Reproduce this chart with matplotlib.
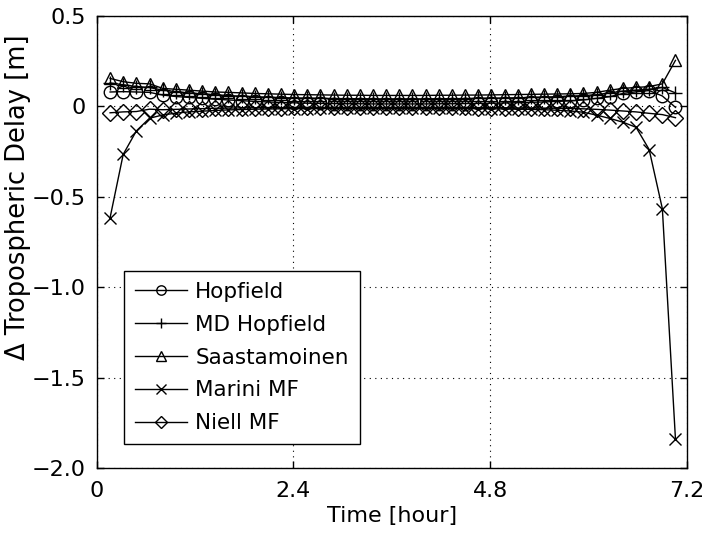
import matplotlib
matplotlib.use("Agg")
import matplotlib.pyplot as plt

plt.rcParams['font.family'] = ['DejaVu Sans']

time_hr = [0.163, 0.323, 0.484, 0.644, 0.805, 0.965, 1.125, 1.286, 1.446, 1.607,
           1.767, 1.927, 2.088, 2.248, 2.409, 2.569, 2.729, 2.890, 3.050, 3.211,
           3.371, 3.531, 3.692, 3.852, 4.013, 4.173, 4.333, 4.494, 4.654, 4.815,
           4.975, 5.135, 5.296, 5.456, 5.617, 5.777, 5.937, 6.098, 6.258, 6.419,
           6.579, 6.739, 6.900, 7.060]

hopfield = [0.08, 0.082, 0.08, 0.078, 0.063, 0.055, 0.05, 0.045, 0.04, 0.036,
            0.032, 0.028, 0.025, 0.022, 0.02, 0.018, 0.017, 0.016, 0.015, 0.015,
            0.014, 0.014, 0.014, 0.014, 0.014, 0.015, 0.015, 0.016, 0.017, 0.018,
            0.019, 0.021, 0.023, 0.025, 0.028, 0.031, 0.036, 0.045, 0.054, 0.072,
            0.081, 0.088, 0.058, -0.005]

md_hopfield = [0.13, 0.12, 0.11, 0.105, 0.09, 0.082, 0.075, 0.07, 0.065, 0.06,
               0.057, 0.054, 0.051, 0.049, 0.047, 0.046, 0.045, 0.044, 0.043, 0.043,
               0.042, 0.042, 0.042, 0.042, 0.042, 0.043, 0.043, 0.044, 0.045, 0.046,
               0.047, 0.048, 0.05, 0.052, 0.054, 0.057, 0.06, 0.065, 0.075, 0.085,
               0.09, 0.095, 0.105, 0.075]

saastamoinen = [0.155, 0.137, 0.128, 0.125, 0.10, 0.095, 0.09, 0.085, 0.08, 0.078,
                0.075, 0.072, 0.07, 0.068, 0.066, 0.065, 0.064, 0.063, 0.062, 0.062,
                0.061, 0.061, 0.061, 0.061, 0.061, 0.062, 0.062, 0.063, 0.063, 0.064,
                0.065, 0.066, 0.067, 0.068, 0.069, 0.070, 0.072, 0.078, 0.09, 0.10,
                0.105, 0.11, 0.125, 0.255]

marini_mf = [-0.615, -0.265, -0.135, -0.065, -0.047, -0.037, -0.03, -0.026, -0.022, -0.019,
             -0.017, -0.015, -0.014, -0.013, -0.012, -0.012, -0.011, -0.011, -0.011, -0.011,
             -0.011, -0.011, -0.011, -0.011, -0.011, -0.011, -0.011, -0.012, -0.012, -0.013,
             -0.014, -0.015, -0.016, -0.018, -0.021, -0.025, -0.032, -0.048, -0.066, -0.087,
             -0.115, -0.238, -0.565, -1.84]

niell_mf = [-0.035, -0.03, -0.028, -0.015, -0.018, -0.016, -0.014, -0.012, -0.01, -0.009,
            -0.008, -0.007, -0.006, -0.006, -0.005, -0.005, -0.005, -0.005, -0.005, -0.005,
            -0.005, -0.005, -0.005, -0.005, -0.005, -0.005, -0.005, -0.005, -0.006, -0.006,
            -0.007, -0.008, -0.008, -0.009, -0.01, -0.011, -0.013, -0.016, -0.02, -0.025,
            -0.03, -0.038, -0.045, -0.062]

series_names = ['Hopfield', 'MD Hopfield', 'Saastamoinen', 'Marini MF', 'Niell MF']
series_values = [hopfield, md_hopfield, saastamoinen, marini_mf, niell_mf]
series_markers = ['o', '+', '^', 'x', 'D']
series_msize = [9, 10, 9, 9, 8]

x_ticks = [0, 2.4, 4.8, 7.2]
x_ticklabels = ['0', '2.4', '4.8', '7.2']
y_ticks = [0.5, 0, -0.5, -1.0, -1.5, -2.0]
y_ticklabels = ['0.5', '0', '\u22120.5', '\u22121.0', '\u22121.5', '\u22122.0']

fig = plt.figure(figsize=(7.06, 5.35), dpi=100)
ax = fig.add_axes([0.137, 0.125, 0.836, 0.845])

for name, vals, mk, ms in zip(series_names, series_values, series_markers, series_msize):
    ax.plot(time_hr, vals, color='black', linewidth=1.0, marker=mk, markersize=ms,
            markerfacecolor='none', markeredgecolor='black', markeredgewidth=1.0,
            label=name)

ax.set_xlim(0, 7.2)
ax.set_ylim(-2.0, 0.5)
ax.set_xticks(x_ticks)
ax.set_xticklabels(x_ticklabels)
ax.set_yticks(y_ticks)
ax.set_yticklabels(y_ticklabels)
ax.tick_params(direction='in', top=True, right=True, labelsize=16, length=5, width=1)
ax.tick_params(axis='x', pad=9)
ax.tick_params(axis='y', pad=8)
ax.grid(True, linestyle=(0, (1, 4)), color='black', linewidth=0.8)
for s in ax.spines.values():
    s.set_linewidth(1.0)

ax.set_xlabel('Time [hour]', fontsize=16)
ax.set_ylabel('\u0394 Tropospheric Delay [m]', fontsize=18.5)
ax.xaxis.set_label_coords(0.5, -0.083)
ax.yaxis.set_label_coords(-0.112, 0.60)

leg = ax.legend(loc='lower left', bbox_to_anchor=(0.046, 0.053), borderaxespad=0,
                fontsize=15.5, handlelength=2.45, markerscale=0.75, fancybox=False,
                framealpha=1, edgecolor='black', labelspacing=0.6, handletextpad=0.37,
                borderpad=0.5)
leg.get_frame().set_linewidth(1.0)

fig.savefig('out.png', dpi=100)
